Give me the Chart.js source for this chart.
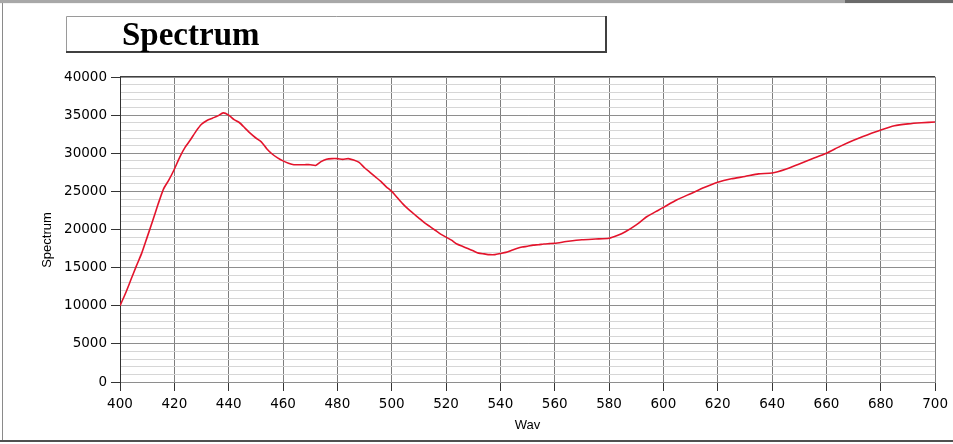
<!DOCTYPE html>
<html><head><meta charset="utf-8">
<script src="https://cdn.jsdelivr.net/npm/chart.js@4/dist/chart.umd.min.js"></script>
<style>html,body{margin:0;padding:0;background:#fff;}#wrap{width:953px;height:444px;position:relative;}</style>
</head><body><div id="wrap"><canvas id="c" width="953" height="444"></canvas></div>
<script>
const chartTitle = "Spectrum";
const xAxisTitle = "Wav";
const yAxisTitle = "Spectrum";
const wavelengths = [400,402,404,406,408,410,412,414,416,418,420,422,424,426,428,430,432,434,436,438,440,442,444,446,448,450,452,454,456,458,460,462,464,466,468,470,472,474,476,478,480,482,484,486,488,490,492,494,496,498,500,502,504,506,508,510,512,514,516,518,520,522,524,526,528,530,532,534,536,538,540,542,544,546,548,550,552,554,556,558,560,565,570,575,580,583,586,590,594,598,600,605,610,615,620,625,630,635,640,645,650,655,660,665,670,675,680,685,690,695,700];
const spectrum = [10000,11600,13400,15200,16900,19000,21100,23300,25300,26500,27900,29500,30800,31800,32900,33800,34300,34600,34900,35300,35000,34400,34000,33300,32600,32000,31500,30600,29900,29400,29000,28700,28500,28500,28500,28500,28400,28900,29200,29300,29300,29200,29300,29100,28800,28100,27500,26900,26300,25600,25000,24200,23400,22700,22100,21500,20900,20400,19900,19400,19000,18600,18100,17800,17500,17200,16900,16800,16700,16700,16850,17000,17250,17500,17700,17800,17950,18000,18100,18150,18200,18450,18650,18750,18850,19200,19700,20600,21700,22500,22900,23900,24700,25500,26200,26650,26950,27300,27400,27900,28600,29300,30000,30900,31700,32400,33050,33600,33850,34000,34100];
const xTickValues = [400,420,440,460,480,500,520,540,560,580,600,620,640,660,680,700];
const yTickLabels = [0,5000,10000,15000,20000,25000,30000,35000,40000];

const decor = {
  id: 'decor',
  afterDraw(chart) {
    const ctx = chart.ctx, a = chart.chartArea;
    ctx.save();
    ctx.fillStyle = '#a8a8a8'; ctx.fillRect(0, 0, 953, 3);
    ctx.fillStyle = '#6a6a6a'; ctx.fillRect(845, 0, 108, 3);
    ctx.fillStyle = '#f4f4f4'; ctx.fillRect(0, 3, 953, 1);
    ctx.fillStyle = '#8a8a8a'; ctx.fillRect(2, 3, 1, 437);
    ctx.fillStyle = '#505050'; ctx.fillRect(0, 440, 953, 2);
    ctx.strokeStyle = '#9a9a9a'; ctx.lineWidth = 1;
    ctx.beginPath(); ctx.moveTo(66.5, 52); ctx.lineTo(66.5, 16.5); ctx.lineTo(606, 16.5); ctx.stroke();
    ctx.strokeStyle = '#404040'; ctx.lineWidth = 2;
    ctx.beginPath(); ctx.moveTo(66, 52); ctx.lineTo(606, 52); ctx.lineTo(606, 16); ctx.stroke();
    ctx.fillStyle = '#000';
    ctx.font = 'bold 33px "Liberation Serif", "DejaVu Serif", serif';
    ctx.textAlign = 'left'; ctx.textBaseline = 'alphabetic';
    ctx.fillText(chartTitle, 122, 45);
    ctx.fillStyle = '#404040'; ctx.fillRect(a.left, Math.round(a.top) - 1, a.right - a.left, 1);
    ctx.translate(47, 240); ctx.rotate(-Math.PI / 2);
    ctx.fillStyle = '#000';
    ctx.font = '13px "Liberation Sans", Arial, sans-serif';
    ctx.textAlign = 'center'; ctx.textBaseline = 'middle';
    ctx.fillText(yAxisTitle, 0, 0);
    ctx.restore();
  }
};

new Chart(document.getElementById('c'), {
  type: 'line',
  data: { datasets: [{
    data: wavelengths.map((w, i) => ({ x: w, y: spectrum[i] })),
    borderColor: '#e3142c', borderWidth: 1.6, pointRadius: 0, tension: 0.2, fill: false
  }]},
  options: {
    responsive: false, animation: false, devicePixelRatio: 1,
    layout: { padding: { left: 0, right: 17, top: 77, bottom: 0 } },
    plugins: { legend: { display: false }, tooltip: { enabled: false }, title: { display: false } },
    scales: {
      x: {
        type: 'linear', min: 400, max: 700,
        afterBuildTicks: s => { s.ticks = xTickValues.map(v => ({ value: v })); },
        ticks: { color: '#000', font: { family: '"DejaVu Sans", sans-serif', size: 13.5 }, padding: 5, maxRotation: 0, autoSkip: false },
        grid: { color: '#7e7e7e', lineWidth: 1, tickLength: 9, tickColor: '#333' },
        border: { color: '#8e8e8e' },
        title: { display: true, text: xAxisTitle, color: '#000', font: { family: '"Liberation Sans", Arial, sans-serif', size: 13 }, padding: { top: 0, bottom: 11 } },
        afterFit: s => { s.height = 62; }
      },
      y: {
        min: 0, max: 40000,
        ticks: { stepSize: 1000, autoSkip: false, color: '#000', font: { family: '"DejaVu Sans", sans-serif', size: 13.5 }, padding: 4,
          callback: v => yTickLabels.includes(v) ? String(v) : '' },
        grid: {
          color: c => (c.tick && yTickLabels.includes(c.tick.value)) ? '#8e8e8e' : '#d6d6d6',
          tickColor: c => (c.tick && yTickLabels.includes(c.tick.value)) ? '#333' : 'rgba(0,0,0,0)',
          tickLength: 9, lineWidth: 1
        },
        border: { color: '#333' },
        afterFit: s => { s.width = 120; }
      }
    }
  },
  plugins: [decor]
});
</script></body></html>
